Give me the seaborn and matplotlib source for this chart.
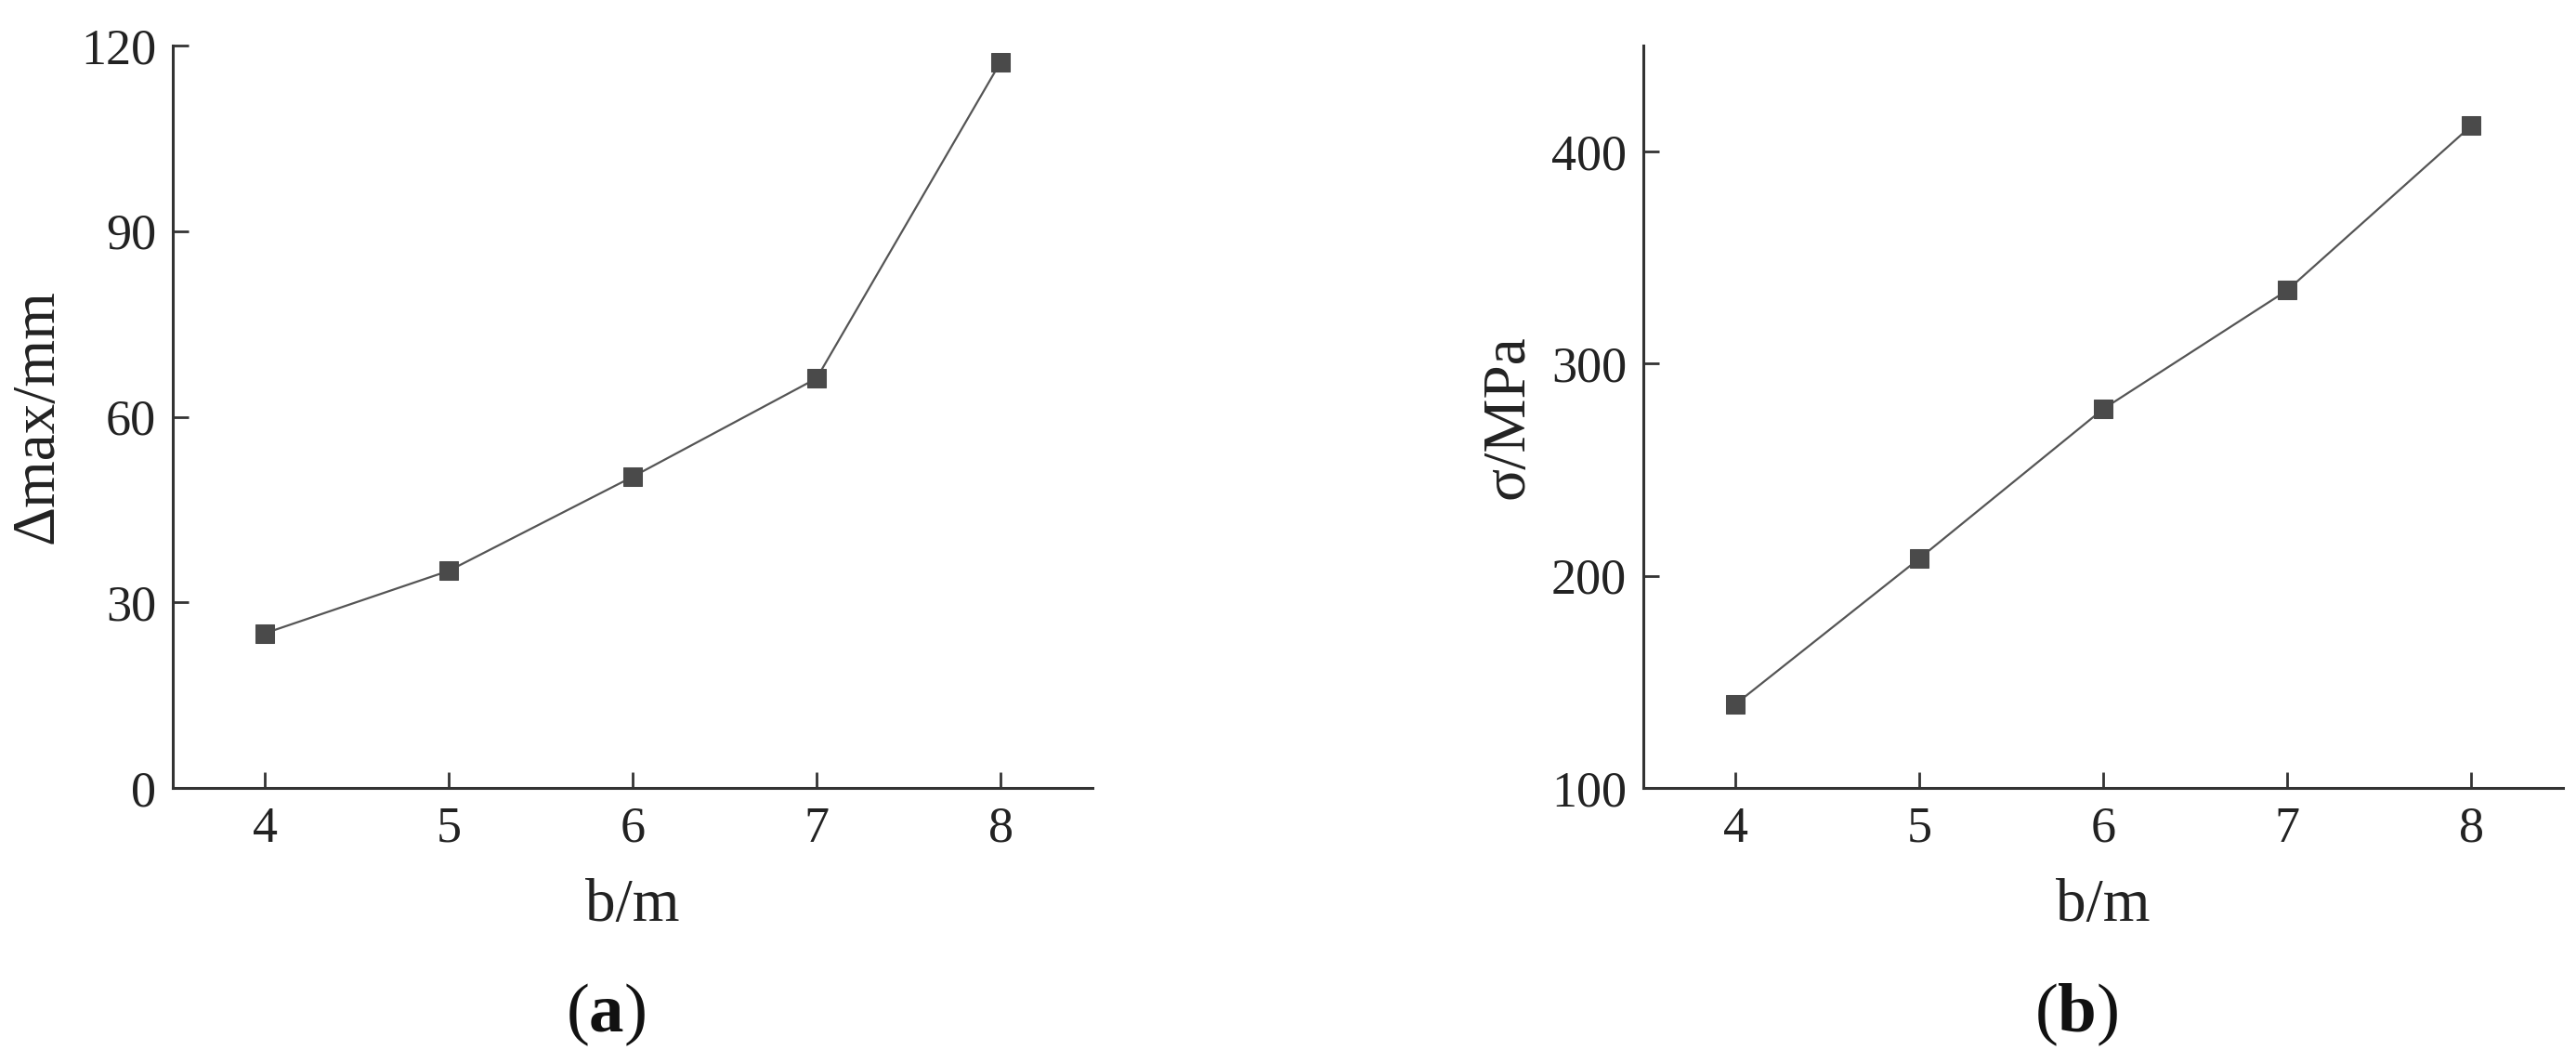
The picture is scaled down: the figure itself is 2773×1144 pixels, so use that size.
import matplotlib
matplotlib.use('Agg')
import matplotlib.pyplot as plt
import seaborn as sns
import pandas as pd

# Data
b_vals = [4, 5, 6, 7, 8]
delta_max = [25.0, 35.1, 50.3, 66.2, 117.3]
sigma = [139.5, 208.2, 278.7, 334.6, 412.1]

# Style
sns.set_style('ticks')
plt.rcParams['font.family'] = ['Liberation Serif', 'DejaVu Serif']
plt.rcParams['mathtext.fontset'] = 'custom'
plt.rcParams['mathtext.rm'] = 'Liberation Serif'
plt.rcParams['mathtext.bf'] = 'Liberation Serif:bold'

LINE_COLOR = '#4a4a4a'
AXIS_COLOR = '#333333'
TICK_SIZE = 39
LABEL_SIZE = 47
CAPTION_SIZE = 54

df_a = pd.DataFrame({'b': b_vals, 'val': delta_max})
df_b = pd.DataFrame({'b': b_vals, 'val': sigma})

fig = plt.figure(figsize=(27.73, 11.44), dpi=100)
ax_a = fig.add_axes([0.0671, 0.2587, 0.357, 0.6985])
ax_b = fig.add_axes([0.638, 0.2587, 0.357, 0.6985])


def style_axis(ax, ylim, yticks, ylabel):
    ax.set_xlim(3.5, 8.5)
    ax.set_ylim(*ylim)
    ax.set_xticks(b_vals)
    ax.set_yticks(yticks)
    ax.set_xticklabels([str(v) for v in b_vals])
    ax.set_yticklabels([str(v) for v in yticks])
    sns.despine(ax=ax)
    for side in ['left', 'bottom']:
        ax.spines[side].set_color(AXIS_COLOR)
        ax.spines[side].set_linewidth(2.2)
    ax.tick_params(direction='in', length=12, width=2, colors=AXIS_COLOR,
                   labelsize=TICK_SIZE, labelcolor='#222222')
    ax.tick_params(axis='y', pad=13)
    ax.tick_params(axis='x', pad=14)
    ax.set_xlabel('b/m', fontsize=LABEL_SIZE, color='#222222', labelpad=20)
    ax.set_ylabel(ylabel, fontsize=LABEL_SIZE, color='#222222', labelpad=12)
    ax.set_facecolor('white')


for ax, df in [(ax_a, df_a), (ax_b, df_b)]:
    sns.lineplot(data=df, x='b', y='val', ax=ax, color='#555555',
                 linewidth=1.6, marker='s', markersize=15,
                 markerfacecolor=LINE_COLOR, markeredgecolor=LINE_COLOR)

style_axis(ax_a, (0, 120), [0, 30, 60, 90, 120], 'Δmax/mm')
style_axis(ax_b, (100, 450), [100, 200, 300, 400], 'σ/MPa')

# Panel captions
fig.text(0.235, 0.045, r'($\mathbf{a}$)', ha='center', va='center',
         fontsize=CAPTION_SIZE, color='#111111')
fig.text(0.806, 0.045, r'($\mathbf{b}$)', ha='center', va='center',
         fontsize=CAPTION_SIZE, color='#111111')

fig.savefig('out.png', dpi=100, facecolor='white')
